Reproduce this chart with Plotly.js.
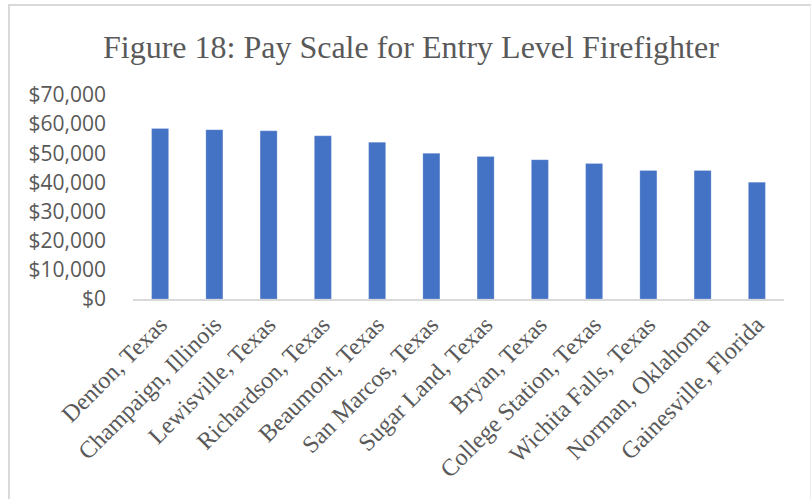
<!DOCTYPE html>
<html>
<head>
<meta charset="utf-8">
<script src="https://cdn.plot.ly/plotly-3.0.1.min.js"></script>
<style>
  html, body { margin: 0; padding: 0; background: #ffffff; }
  #chart { position: absolute; left: 0; top: 0; width: 812px; height: 499px; }
  #frame { position: absolute; left: 8px; top: 4px; width: 800px; height: 520px;
           border-left: 2px solid #d9d9d9; border-top: 2px solid #d9d9d9; border-right: 1px solid #ededed;
           pointer-events: none; }
</style>
</head>
<body>
<div id="chart"></div>
<div id="frame"></div>
<script>
const cities = [
  "Denton, Texas", "Champaign, Illinois", "Lewisville, Texas", "Richardson, Texas",
  "Beaumont, Texas", "San Marcos, Texas", "Sugar Land, Texas", "Bryan, Texas",
  "College Station, Texas", "Wichita Falls, Texas", "Norman, Oklahoma", "Gainesville, Florida"
];
const pay = [58500, 58100, 57700, 56000, 53800, 50000, 48900, 47800, 46500, 44100, 44100, 40100];
const yTicks = [0, 10000, 20000, 30000, 40000, 50000, 60000, 70000];
const yTickText = ["$0", "$10,000", "$20,000", "$30,000", "$40,000", "$50,000", "$60,000", "$70,000"];
const chartTitle = "Figure 18: Pay Scale for Entry Level Firefighter";

const trace = {
  type: "bar",
  x: cities,
  y: pay,
  marker: { color: "#4472C4", line: { color: "rgba(255,255,255,0.35)", width: 0.6 } },
  hoverinfo: "x+y"
};

const layout = {
  width: 812,
  height: 499,
  margin: { l: 133, r: 28, t: 95, b: 200, pad: 0 },
  paper_bgcolor: "#ffffff",
  plot_bgcolor: "#ffffff",
  showlegend: false,
  bargap: 0.686,
  title: {
    text: chartTitle,
    font: { family: "Liberation Serif, Times New Roman, serif", size: 32, color: "#595959" },
    x: 0.506, xref: "container", xanchor: "center",
    y: 0.906, yref: "container", yanchor: "middle"
  },
  xaxis: {
    type: "category",
    tickangle: -45,
    tickfont: { family: "Liberation Serif, Times New Roman, serif", size: 24, color: "#595959" },
    showgrid: false,
    zeroline: false,
    showline: true,
    linecolor: "#d9d9d9",
    linewidth: 2,
    ticks: "",
    automargin: false
  },
  yaxis: {
    range: [0, 70000],
    tickvals: yTicks,
    ticktext: yTickText,
    tickfont: { family: "Open Sans, Calibri, sans-serif", size: 21, color: "#595959" },
    showgrid: false,
    zeroline: false,
    showline: false,
    ticks: "",
    ticklabelstandoff: 26,
    automargin: false
  }
};

Plotly.newPlot("chart", [trace], layout, { displayModeBar: false, staticPlot: true });
</script>
</body>
</html>
